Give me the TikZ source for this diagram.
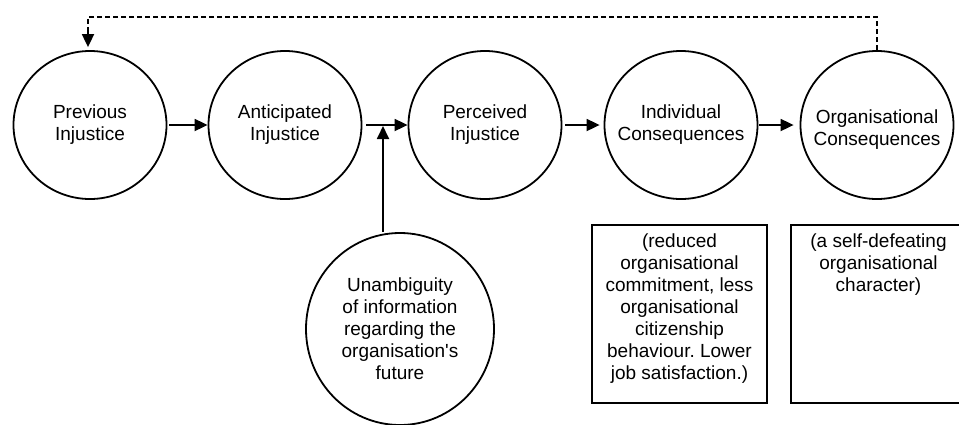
\documentclass[tikz,border=0pt]{standalone}
\usepackage{fontspec}
\setmainfont{Liberation Sans}
\usetikzlibrary{arrows.meta,shapes.geometric}
\frenchspacing
\begin{document}
\begin{tikzpicture}[x=1pt,y=-1pt,
  txt/.style={font=\fontsize{19}{22}\selectfont, align=center, inner sep=0pt},
  stage/.style={draw, line width=1.8pt, ellipse, inner sep=0pt,
    minimum width=153pt, minimum height=148pt,
    label={[txt]center:{#1}}},
  box/.style={draw, line width=1.8pt, rectangle, inner sep=0pt},
  arr/.style={line width=1.8pt, -{Triangle[length=13pt,width=12pt]}},
  fb/.style={line width=2pt, dash pattern=on 5pt off 3pt}
]
\useasboundingbox (0,0) rectangle (959,424);

% main chain of stages (the text is set as a centred label so it
% does not enlarge the ellipse)
\node[stage={Previous\\Injustice}] (prev)  at (90,125)  {};
\node[stage={Anticipated\\Injustice}] (antic) at (285,125) {};
\node[stage={Perceived\\Injustice}] (perc)  at (485,125) {};
\node[stage={Individual\\Consequences}] (indiv) at (681,125) {};
\node[draw, line width=1.8pt, ellipse, inner sep=0pt,
  minimum width=153pt, minimum height=148pt,
  label={[txt, yshift=-5pt]center:{Organisational\\Consequences}}] (org) at (877,125) {};

% moderating factor
\node[stage={Unambiguity\\of information\\regarding the\\organisation\textquotesingle s\\future},
  minimum width=188pt, minimum height=192pt] (unamb) at (400,329) {};

% description boxes
\node[box, minimum width=175pt, minimum height=178pt] (b1) at (679.5,314) {};
\node[txt, anchor=north] (t1) at ([yshift=-9pt]b1.north)
  {(reduced\\organisational\\commitment, less\\organisational\\citizenship\\behaviour. Lower\\job satisfaction.)};
\node[box, minimum width=175pt, minimum height=178pt] (b2) at (878.5,314) {};
\node[txt, anchor=north] (t2) at ([yshift=-9pt]b2.north)
  {(a self-defeating\\organisational\\character)};

% forward links
\draw[arr, shorten <=2pt] (prev) -- (antic);
\coordinate (join) at (383,125);
\draw[arr, shorten <=4pt] (antic.east) -- (perc.west);
\draw[arr] ([xshift=-17pt]unamb.north) -- ([yshift=-1pt]join);
\draw[arr, shorten <=3pt, shorten >=4pt] (perc) -- (indiv);
\draw[arr, shorten <=1pt, shorten >=6pt] (indiv) -- (org);

% feedback loop
\coordinate (fbR) at (877,17);
\coordinate (fbL) at (88,17);
\draw[fb] (org.north) -- (fbR) -- (fbL) -- ([yshift=20pt]prev.north -| fbL);
\draw[arr] ([yshift=21pt]prev.north -| fbL) -- ([yshift=3pt]prev.north -| fbL);
\end{tikzpicture}
\end{document}
